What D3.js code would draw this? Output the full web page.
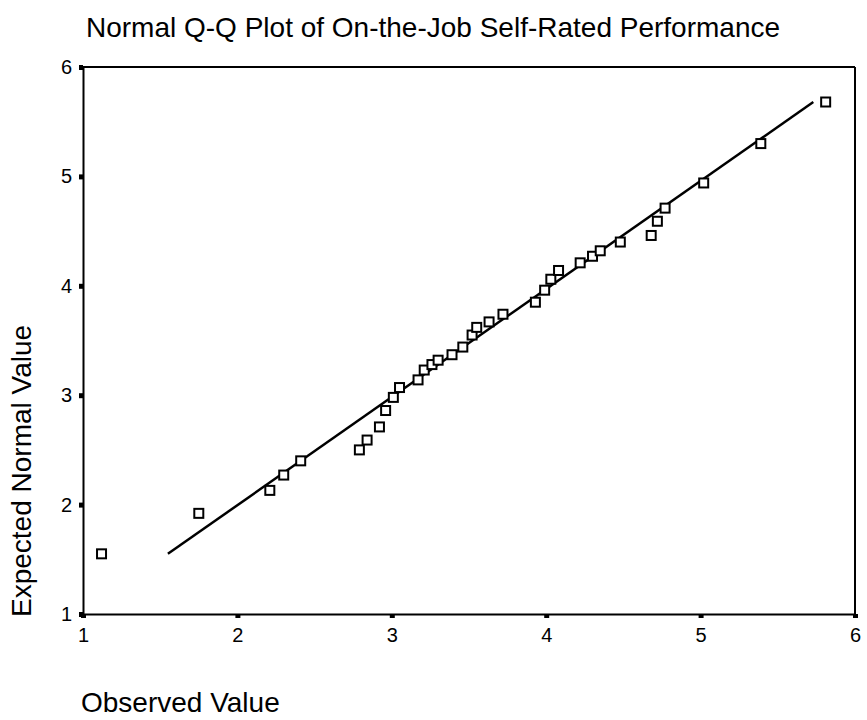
<!DOCTYPE html>
<html>
<head>
<meta charset="utf-8">
<script src="https://cdn.jsdelivr.net/npm/d3@7"></script>
<style>
  html, body { margin: 0; padding: 0; background: #fff; }
  svg { display: block; font-family: "Liberation Sans", Arial, sans-serif; }
</style>
</head>
<body>
<svg id="chart" width="867" height="720"></svg>
<script>
// Observed scores and their expected normal quantiles
const observed = [1.12, 1.75, 2.21, 2.30, 2.41, 2.79, 2.84, 2.92, 2.96, 3.01, 3.05, 3.17, 3.21, 3.26, 3.30,
                  3.39, 3.46, 3.52, 3.55, 3.63, 3.72, 3.93, 3.99, 4.03, 4.08, 4.22, 4.30, 4.35, 4.48, 4.68,
                  4.72, 4.77, 5.02, 5.39, 5.81];
const expected = [1.55, 1.92, 2.13, 2.27, 2.40, 2.50, 2.59, 2.71, 2.86, 2.98, 3.07, 3.14, 3.23, 3.28, 3.32,
                  3.37, 3.44, 3.55, 3.62, 3.67, 3.74, 3.85, 3.96, 4.06, 4.14, 4.21, 4.27, 4.32, 4.40, 4.46,
                  4.59, 4.71, 4.94, 5.30, 5.68];

// Reference line end points
const lineX = [1.55, 5.73];
const lineY = [1.55, 5.68];

// Axis ticks
const xTicks = [1, 2, 3, 4, 5, 6];
const yTicks = [1, 2, 3, 4, 5, 6];

const titleText = "Normal Q-Q Plot of On-the-Job Self-Rated Performance";
const xLabel = "Observed Value";
const yLabel = "Expected Normal Value";

const svg = d3.select("#chart");
const plotLeft = 83, plotRight = 855, plotTop = 67, plotBottom = 614;

const x = d3.scaleLinear().domain([1, 6]).range([plotLeft, plotRight]);
const y = d3.scaleLinear().domain([1, 6]).range([plotBottom, plotTop]);

// Frame: top and right edges
svg.append("line").attr("x1", x(1)).attr("x2", x(6)).attr("y1", y(6)).attr("y2", y(6))
  .attr("stroke", "#000").attr("stroke-width", 2);
svg.append("line").attr("x1", x(6)).attr("x2", x(6)).attr("y1", y(6)).attr("y2", y(1))
  .attr("stroke", "#000").attr("stroke-width", 2);

// Bottom axis
const gx = svg.append("g").attr("transform", `translate(0,${plotBottom})`)
  .call(d3.axisBottom(x).tickValues(xTicks).tickFormat(d3.format("d")).tickSize(4).tickSizeOuter(0).tickPadding(10));
// Left axis
const gy = svg.append("g").attr("transform", `translate(${plotLeft},0)`)
  .call(d3.axisLeft(y).tickValues(yTicks).tickFormat(d3.format("d")).tickSize(4).tickSizeOuter(0).tickPadding(7));

[gx, gy].forEach(g => {
  g.select(".domain").attr("stroke", "#000").attr("stroke-width", 2);
  g.selectAll(".tick line").attr("stroke", "#000").attr("stroke-width", 5);
  g.selectAll(".tick text").attr("fill", "#000").attr("font-size", 20)
    .attr("font-family", "'Liberation Sans', Arial, sans-serif");
});

// Reference line
svg.append("line")
  .attr("x1", x(lineX[0])).attr("y1", y(lineY[0]))
  .attr("x2", x(lineX[1])).attr("y2", y(lineY[1]))
  .attr("stroke", "#000").attr("stroke-width", 2.5);

// Points as open squares
const sq = 9;
svg.append("g").selectAll("rect")
  .data(observed.map((v, i) => [v, expected[i]]))
  .join("rect")
  .attr("x", d => x(d[0]) - sq / 2)
  .attr("y", d => y(d[1]) - sq / 2)
  .attr("width", sq).attr("height", sq)
  .attr("fill", "#fff").attr("stroke", "#000").attr("stroke-width", 2);

// Title and axis labels
svg.append("text").attr("x", 86).attr("y", 37)
  .attr("font-size", 28).attr("fill", "#000").text(titleText);

svg.append("text").attr("x", 81).attr("y", 712)
  .attr("font-size", 28).attr("fill", "#000").text(xLabel);

svg.append("text")
  .attr("transform", "translate(31,617) rotate(-90)")
  .attr("font-size", 28).attr("fill", "#000").text(yLabel);
</script>
</body>
</html>
